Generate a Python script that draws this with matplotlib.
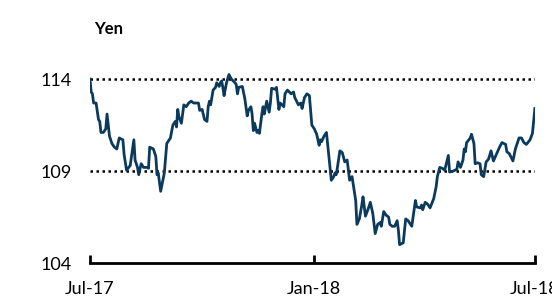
import pandas as pd
import matplotlib.pyplot as plt

plt.rcParams['font.family'] = ['Lato', 'DejaVu Sans']

# days since 1 Jul 2017 and the yen rate
days = [0, 1, 2, 3, 5, 7, 8, 9, 11, 13, 14, 16, 18, 20, 22, 24, 27, 28, 30, 33,
        36, 37, 39, 40, 42, 44, 47, 48, 49, 52, 54, 55, 56, 58, 61, 63, 65, 66, 68, 70,
        71, 72, 73, 75, 77, 79, 81, 83, 85, 89, 90, 92, 94, 96, 97, 98, 99, 101, 103, 104,
        106, 107, 108, 109, 110, 112, 114, 116, 119, 120, 121, 122, 125, 127, 129, 130, 132, 133, 134, 135,
        137, 138, 139, 141, 142, 143, 145, 147, 148, 149, 152, 153, 155, 156, 159, 160, 162, 165, 167, 168,
        171, 173, 174, 176, 178, 180, 182, 184, 186, 188, 189, 190, 192, 194, 196, 198, 200, 201, 202, 203,
        205, 207, 209, 211, 213, 215, 218, 219, 221, 223, 224, 226, 228, 230, 232, 234, 236, 238, 239, 241,
        243, 245, 246, 248, 250, 252, 253, 254, 257, 259, 261, 264, 267, 268, 271, 272, 273, 275, 277, 279,
        282, 284, 285, 287, 289, 291, 294, 295, 298, 301, 302, 304, 306, 307, 308, 309, 312, 313, 315, 316,
        318, 320, 321, 323, 325, 327, 329, 331, 334, 336, 338, 341, 342, 344, 347, 349, 352, 354, 356, 358,
        361, 363, 365]
yen = [114.0, 113.3, 113.2, 112.7, 112.7, 111.8, 111.7, 111.1, 111.1, 111.3, 112.1, 110.9, 110.5, 110.3, 110.2, 110.8, 110.7, 109.9, 109.05, 109.3,
       110.7, 109.6, 109.2, 108.8, 109.4, 109.2, 109.2, 109.15, 110.3, 110.2, 109.8, 108.8, 108.9, 107.9, 108.9, 110.5, 110.7, 110.8, 111.5, 111.7,
       111.4, 112.35, 111.95, 111.6, 112.6, 112.5, 112.7, 112.8, 112.7, 112.7, 112.3, 112.35, 111.8, 111.7, 112.5, 112.8, 112.6, 113.4, 113.55, 113.8,
       113.6, 113.8, 113.9, 113.55, 113.1, 113.8, 114.25, 114.0, 113.8, 113.7, 113.2, 113.55, 113.6, 112.95, 112.0, 112.3, 112.5, 112.1, 111.2, 111.6,
       111.1, 111.2, 111.05, 112.1, 112.5, 112.1, 112.8, 112.2, 112.7, 113.5, 113.45, 113.55, 112.35, 112.7, 112.5, 113.2, 113.4, 113.2, 113.3, 113.0,
       112.6, 112.7, 112.4, 113.0, 113.2, 113.1, 111.5, 111.3, 111.0, 110.4, 110.7, 110.6, 110.9, 111.1, 109.8, 108.5, 108.7, 108.9, 108.8, 109.2,
       110.1, 110.0, 109.5, 109.6, 108.5, 108.7, 107.4, 106.1, 106.4, 107.15, 107.6, 106.55, 106.9, 107.3, 106.7, 105.6, 106.1, 106.2, 106.0, 106.8,
       106.6, 106.5, 106.1, 106.0, 106.0, 106.3, 105.8, 105.0, 105.1, 106.4, 106.3, 106.0, 107.4, 107.05, 107.0, 107.15, 106.9, 107.3, 107.2, 107.0,
       107.5, 108.15, 108.7, 109.2, 109.15, 109.05, 109.85, 108.95, 109.0, 109.1, 109.5, 109.2, 109.6, 110.2, 110.05, 110.55, 110.8, 111.0, 110.5, 109.4,
       109.45, 109.4, 108.8, 108.7, 109.5, 109.65, 110.1, 109.55, 110.0, 110.3, 110.55, 110.45, 110.05, 109.95, 109.55, 110.2, 110.8, 110.8, 110.55, 110.45,
       110.7, 111.05, 112.4]
tick_dates = ['2017-07-01', '2018-01-01', '2018-07-01']
tick_labels = ['Jul-17', 'Jan-18', 'Jul-18']
grid_levels = [109, 114]
y_ticks = [104, 109, 114]

dates = pd.Timestamp('2017-07-01') + pd.to_timedelta(days, unit='D')

fig = plt.figure(figsize=(5.52, 3.02), dpi=100)
ax = fig.add_axes([0.163, 0.129, 0.806, 0.67])

for lv in grid_levels:
    ax.axhline(lv, color='black', linestyle=(0, (1, 1.4)), linewidth=1.8, zorder=1)
ax.plot(dates, yen, color='#0b3a5c', linewidth=2, zorder=3)

ax.set_xlim(pd.Timestamp(tick_dates[0]), pd.Timestamp(tick_dates[-1]))
ax.set_ylim(104, 115)
ax.set_xticks([pd.Timestamp(d) for d in tick_dates])
ax.set_xticklabels(tick_labels)
ax.set_yticks(y_ticks)
ax.set_yticklabels([str(v) for v in y_ticks])

for s in ['top', 'right', 'left']:
    ax.spines[s].set_visible(False)
ax.spines['bottom'].set_linewidth(2)
ax.spines['bottom'].set_color('black')
ax.tick_params(axis='x', direction='in', length=6, width=2, pad=13, labelsize=13, colors='black')
ax.tick_params(axis='y', length=0, pad=13, labelsize=13)

fig.text(0.196, 0.904, 'Yen', fontsize=12, fontweight='bold', ha='center', va='center')

fig.savefig('out.png', dpi=100)
